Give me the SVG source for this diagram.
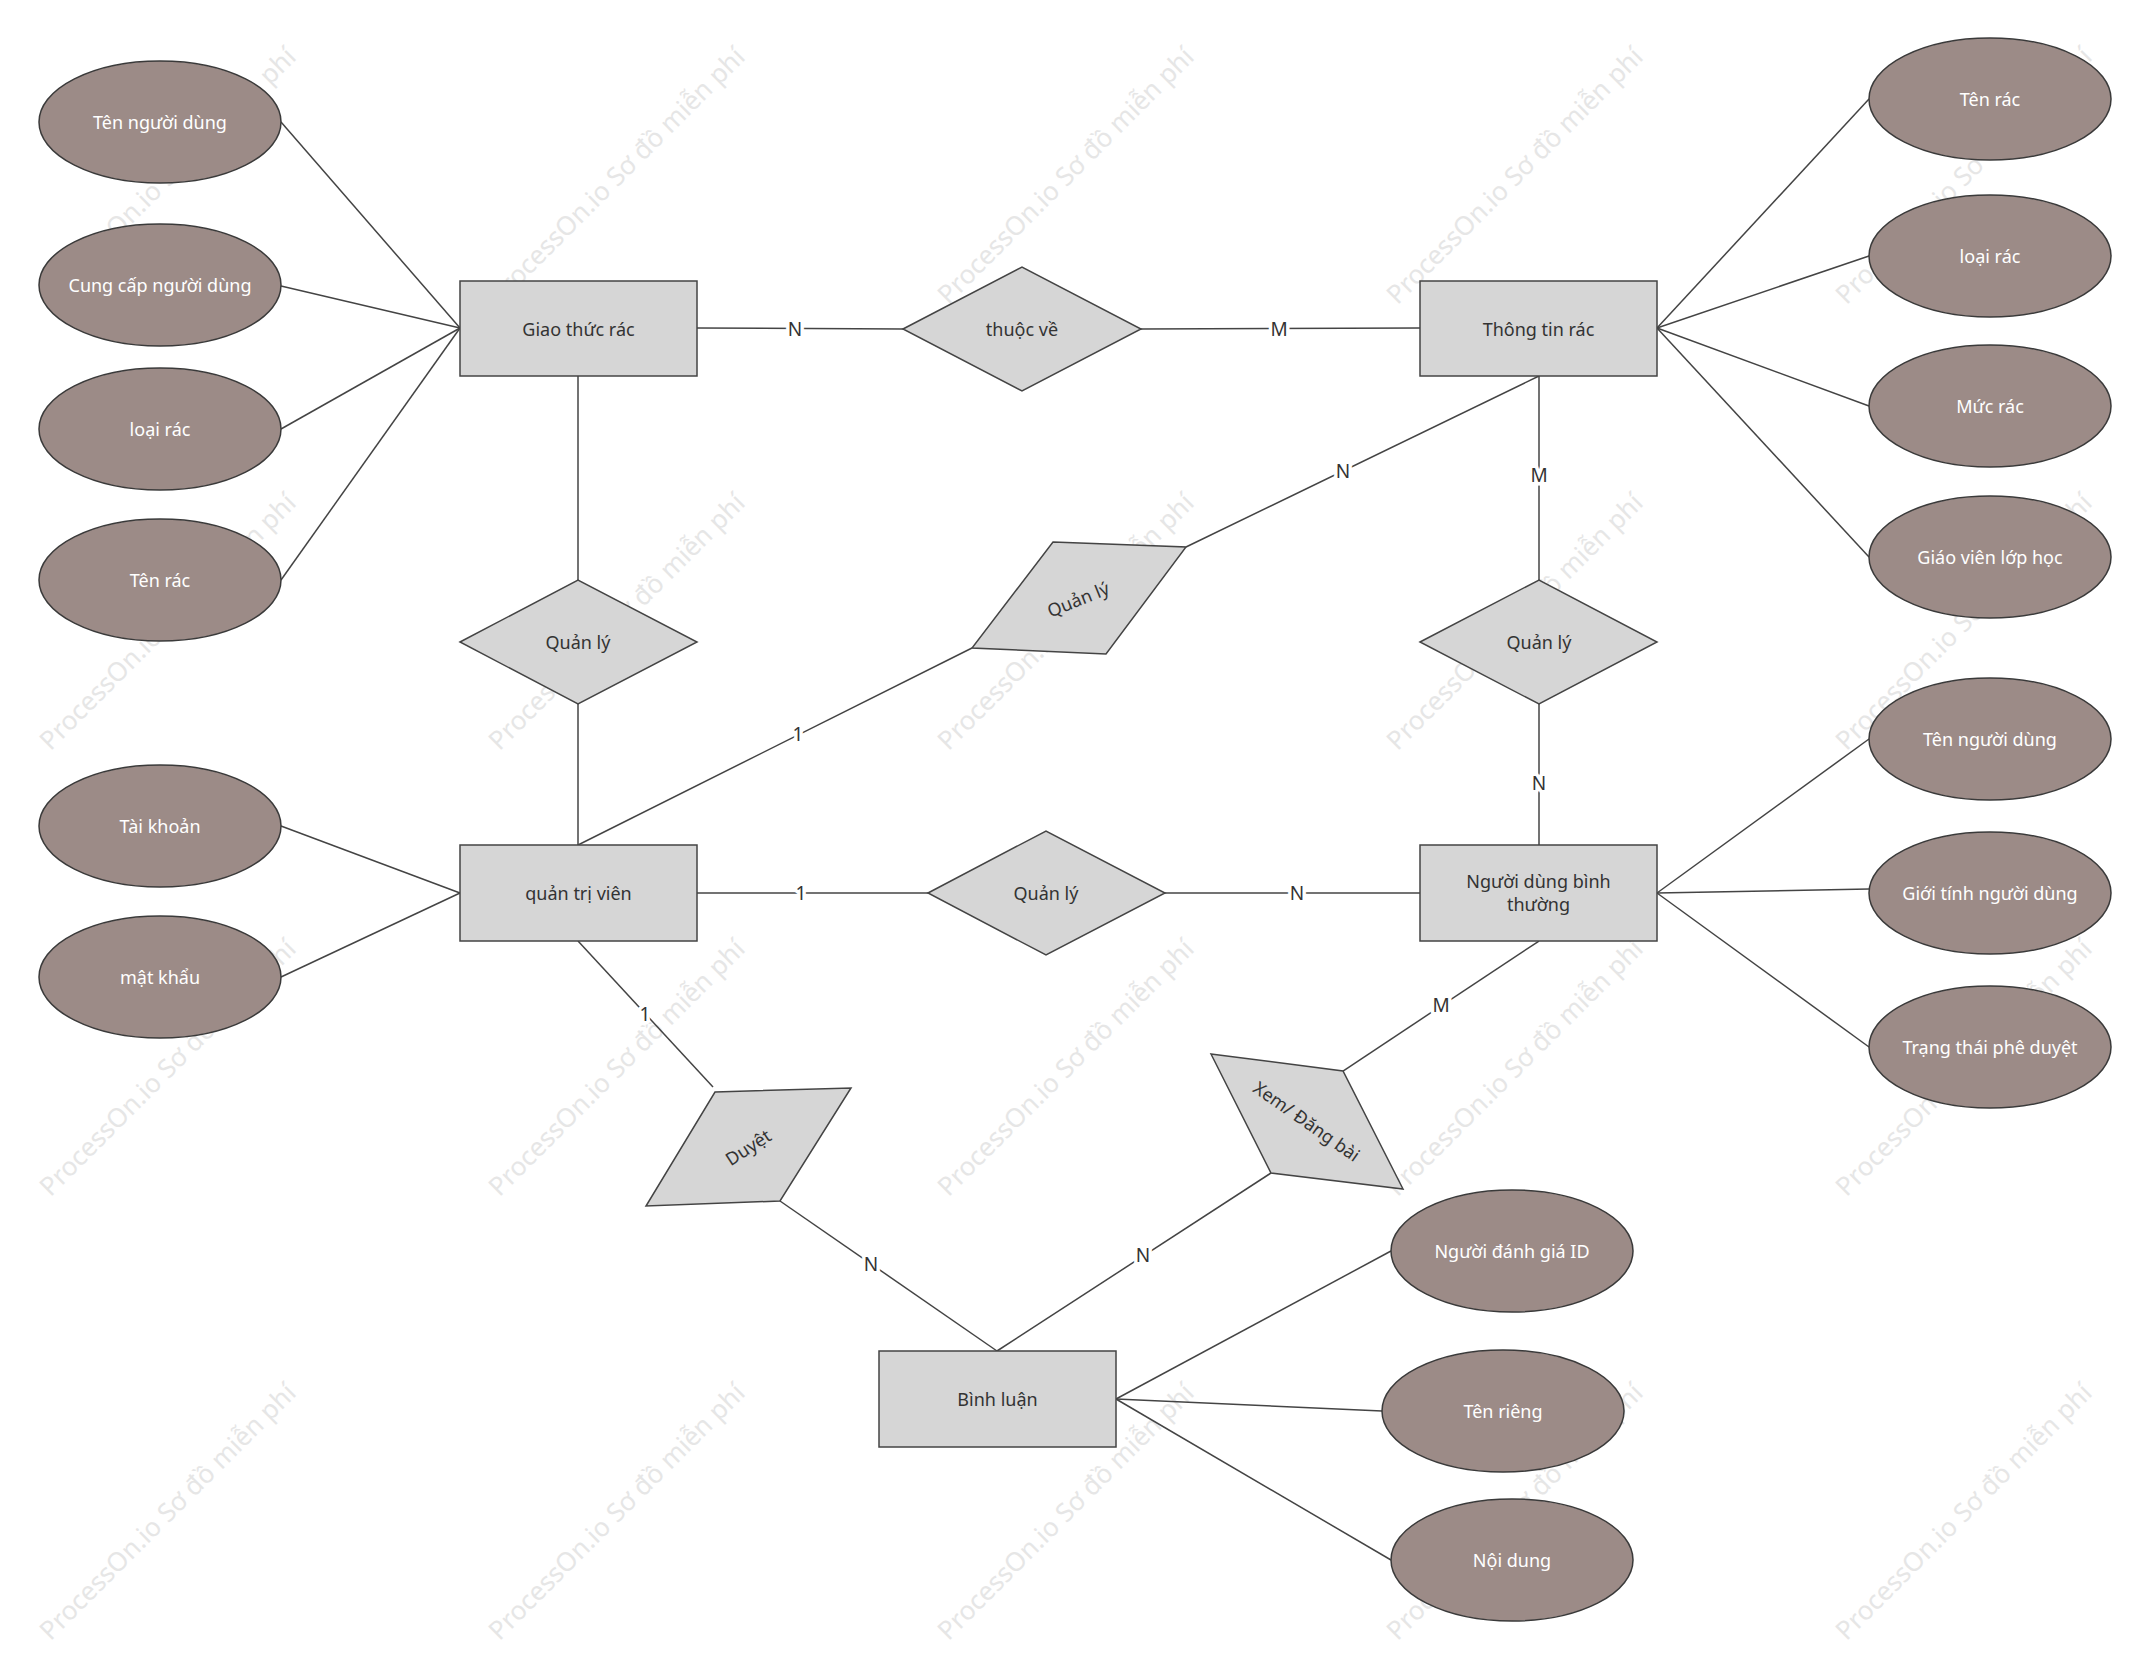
<svg xmlns="http://www.w3.org/2000/svg" width="2146" height="1658" viewBox="0 0 2146 1658">
<style>
.wm{font-family:"Noto Sans","DejaVu Sans",sans-serif;font-size:26px;fill:#e6e6e6;text-anchor:middle}
.ent{fill:#d6d6d6;stroke:#444;stroke-width:1.5}
.rel{fill:#d6d6d6;stroke:#444;stroke-width:1.5}
.att{fill:#9c8b87;stroke:#3a3a3a;stroke-width:1.5}
.t{font-family:"Noto Sans","DejaVu Sans",sans-serif;font-size:18px;fill:#333;text-anchor:middle;dominant-baseline:central}
.ta{font-family:"Noto Sans","DejaVu Sans",sans-serif;font-size:18px;fill:#fff;text-anchor:middle;dominant-baseline:central}
.c line{stroke:#444;stroke-width:1.5}
.lb{font-family:"Noto Sans","DejaVu Sans",sans-serif;font-size:19px;fill:#333;text-anchor:middle;dominant-baseline:central;stroke:#fff;stroke-width:7px;paint-order:stroke;stroke-linejoin:round}
</style>
<rect width="2146" height="1658" fill="#fff"/>
<g id="watermarks">
<text class="wm" x="174" y="182" transform="rotate(-45 174 182)">ProcessOn.io Sơ đồ miễn phí</text>
<text class="wm" x="623" y="182" transform="rotate(-45 623 182)">ProcessOn.io Sơ đồ miễn phí</text>
<text class="wm" x="1072" y="182" transform="rotate(-45 1072 182)">ProcessOn.io Sơ đồ miễn phí</text>
<text class="wm" x="1521" y="182" transform="rotate(-45 1521 182)">ProcessOn.io Sơ đồ miễn phí</text>
<text class="wm" x="1970" y="182" transform="rotate(-45 1970 182)">ProcessOn.io Sơ đồ miễn phí</text>
<text class="wm" x="174" y="628" transform="rotate(-45 174 628)">ProcessOn.io Sơ đồ miễn phí</text>
<text class="wm" x="623" y="628" transform="rotate(-45 623 628)">ProcessOn.io Sơ đồ miễn phí</text>
<text class="wm" x="1072" y="628" transform="rotate(-45 1072 628)">ProcessOn.io Sơ đồ miễn phí</text>
<text class="wm" x="1521" y="628" transform="rotate(-45 1521 628)">ProcessOn.io Sơ đồ miễn phí</text>
<text class="wm" x="1970" y="628" transform="rotate(-45 1970 628)">ProcessOn.io Sơ đồ miễn phí</text>
<text class="wm" x="174" y="1074" transform="rotate(-45 174 1074)">ProcessOn.io Sơ đồ miễn phí</text>
<text class="wm" x="623" y="1074" transform="rotate(-45 623 1074)">ProcessOn.io Sơ đồ miễn phí</text>
<text class="wm" x="1072" y="1074" transform="rotate(-45 1072 1074)">ProcessOn.io Sơ đồ miễn phí</text>
<text class="wm" x="1521" y="1074" transform="rotate(-45 1521 1074)">ProcessOn.io Sơ đồ miễn phí</text>
<text class="wm" x="1970" y="1074" transform="rotate(-45 1970 1074)">ProcessOn.io Sơ đồ miễn phí</text>
<text class="wm" x="174" y="1518" transform="rotate(-45 174 1518)">ProcessOn.io Sơ đồ miễn phí</text>
<text class="wm" x="623" y="1518" transform="rotate(-45 623 1518)">ProcessOn.io Sơ đồ miễn phí</text>
<text class="wm" x="1072" y="1518" transform="rotate(-45 1072 1518)">ProcessOn.io Sơ đồ miễn phí</text>
<text class="wm" x="1521" y="1518" transform="rotate(-45 1521 1518)">ProcessOn.io Sơ đồ miễn phí</text>
<text class="wm" x="1970" y="1518" transform="rotate(-45 1970 1518)">ProcessOn.io Sơ đồ miễn phí</text>
</g>
<g id="connectors" class="c">
<line x1="281" y1="122" x2="460" y2="328"/>
<line x1="281" y1="286" x2="460" y2="328"/>
<line x1="281" y1="429" x2="460" y2="328"/>
<line x1="281" y1="580" x2="460" y2="328"/>
<line x1="697" y1="328" x2="903" y2="329"/>
<line x1="1141" y1="329" x2="1420" y2="328"/>
<line x1="1657" y1="328" x2="1869" y2="99"/>
<line x1="1657" y1="328" x2="1869" y2="256"/>
<line x1="1657" y1="328" x2="1869" y2="406"/>
<line x1="1657" y1="328" x2="1869" y2="557"/>
<line x1="578" y1="376" x2="578" y2="580"/>
<line x1="578" y1="704" x2="578" y2="845"/>
<line x1="1539" y1="376" x2="1539" y2="580"/>
<line x1="1539" y1="704" x2="1539" y2="845"/>
<line x1="1539" y1="376" x2="1186" y2="547"/>
<line x1="972" y1="648" x2="578" y2="845"/>
<line x1="460" y1="893" x2="281" y2="826"/>
<line x1="460" y1="893" x2="281" y2="977"/>
<line x1="697" y1="893" x2="928" y2="893"/>
<line x1="1165" y1="893" x2="1420" y2="893"/>
<line x1="1657" y1="893" x2="1869" y2="739"/>
<line x1="1657" y1="893" x2="1869" y2="889"/>
<line x1="1657" y1="893" x2="1869" y2="1047"/>
<line x1="578" y1="941" x2="713" y2="1087"/>
<line x1="780" y1="1201" x2="997" y2="1351"/>
<line x1="1539" y1="941" x2="1343" y2="1071"/>
<line x1="1271" y1="1173" x2="997" y2="1351"/>
<line x1="1116" y1="1399" x2="1391" y2="1251"/>
<line x1="1116" y1="1399" x2="1382" y2="1411"/>
<line x1="1116" y1="1399" x2="1391" y2="1560"/>
<text class="lb" x="795" y="329">N</text>
<text class="lb" x="1279" y="329">M</text>
<text class="lb" x="1343" y="471">N</text>
<text class="lb" x="1539" y="475">M</text>
<text class="lb" x="1539" y="783">N</text>
<text class="lb" x="798" y="734">1</text>
<text class="lb" x="801" y="893">1</text>
<text class="lb" x="1297" y="893">N</text>
<text class="lb" x="645" y="1014">1</text>
<text class="lb" x="871" y="1264">N</text>
<text class="lb" x="1143" y="1255">N</text>
<text class="lb" x="1441" y="1005">M</text>
</g>
<g id="giao-thuc-rac"><rect class="ent" x="460" y="281" width="237" height="95"/><text class="t" x="578.5" y="328.5">Giao thức rác</text></g>
<g id="thong-tin-rac"><rect class="ent" x="1420" y="281" width="237" height="95"/><text class="t" x="1538.5" y="328.5">Thông tin rác</text></g>
<g id="quan-tri-vien"><rect class="ent" x="460" y="845" width="237" height="96"/><text class="t" x="578.5" y="893">quản trị viên</text></g>
<g id="nguoi-dung"><rect class="ent" x="1420" y="845" width="237" height="96"/><text class="t" x="1538.5" y="881">Người dùng bình</text><text class="t" x="1538.5" y="904">thường</text></g>
<g id="binh-luan"><rect class="ent" x="879" y="1351" width="237" height="96"/><text class="t" x="997.5" y="1399">Bình luận</text></g>
<g id="thuoc-ve"><polygon class="rel" points="903,329 1022,267 1141,329 1022,391"/><text class="t" x="1022" y="329">thuộc về</text></g>
<g id="quan-ly-1"><polygon class="rel" points="460,642 578,580 697,642 578,704"/><text class="t" x="578" y="642">Quản lý</text></g>
<g id="quan-ly-2"><polygon class="rel" points="1420,642 1539,580 1657,642 1539,704"/><text class="t" x="1539" y="642">Quản lý</text></g>
<g id="quan-ly-3"><polygon class="rel" points="928,893 1046,831 1165,893 1046,955"/><text class="t" x="1046" y="893">Quản lý</text></g>
<g id="quan-ly-4"><polygon class="rel" points="1053,542 1186,547 1106,654 972,648"/><text class="t" x="1078" y="599" transform="rotate(-22 1078 599)">Quản lý</text></g>
<g id="duyet"><polygon class="rel" points="715,1092 851,1088 780,1201 646,1206"/><text class="t" x="748" y="1147" transform="rotate(-33 748 1147)">Duyệt</text></g>
<g id="xem-dang-bai"><polygon class="rel" points="1211,1054 1343,1071 1403,1189 1271,1173"/><text class="t" x="1307" y="1121" transform="rotate(35 1307 1121)">Xem/ Đăng bài</text></g>
<g id="a-ten-nguoi-dung-1"><ellipse class="att" cx="160" cy="122" rx="121" ry="61"/><text class="ta" x="160" y="122">Tên người dùng</text></g>
<g id="a-cung-cap"><ellipse class="att" cx="160" cy="285" rx="121" ry="61"/><text class="ta" x="160" y="285">Cung cấp người dùng</text></g>
<g id="a-loai-rac-1"><ellipse class="att" cx="160" cy="429" rx="121" ry="61"/><text class="ta" x="160" y="429">loại rác</text></g>
<g id="a-ten-rac-1"><ellipse class="att" cx="160" cy="580" rx="121" ry="61"/><text class="ta" x="160" y="580">Tên rác</text></g>
<g id="a-tai-khoan"><ellipse class="att" cx="160" cy="826" rx="121" ry="61"/><text class="ta" x="160" y="826">Tài khoản</text></g>
<g id="a-mat-khau"><ellipse class="att" cx="160" cy="977" rx="121" ry="61"/><text class="ta" x="160" y="977">mật khẩu</text></g>
<g id="a-ten-rac-2"><ellipse class="att" cx="1990" cy="99" rx="121" ry="61"/><text class="ta" x="1990" y="99">Tên rác</text></g>
<g id="a-loai-rac-2"><ellipse class="att" cx="1990" cy="256" rx="121" ry="61"/><text class="ta" x="1990" y="256">loại rác</text></g>
<g id="a-muc-rac"><ellipse class="att" cx="1990" cy="406" rx="121" ry="61"/><text class="ta" x="1990" y="406">Mức rác</text></g>
<g id="a-giao-vien"><ellipse class="att" cx="1990" cy="557" rx="121" ry="61"/><text class="ta" x="1990" y="557">Giáo viên lớp học</text></g>
<g id="a-ten-nguoi-dung-2"><ellipse class="att" cx="1990" cy="739" rx="121" ry="61"/><text class="ta" x="1990" y="739">Tên người dùng</text></g>
<g id="a-gioi-tinh"><ellipse class="att" cx="1990" cy="893" rx="121" ry="61"/><text class="ta" x="1990" y="893">Giới tính người dùng</text></g>
<g id="a-trang-thai"><ellipse class="att" cx="1990" cy="1047" rx="121" ry="61"/><text class="ta" x="1990" y="1047">Trạng thái phê duyệt</text></g>
<g id="a-nguoi-danh-gia"><ellipse class="att" cx="1512" cy="1251" rx="121" ry="61"/><text class="ta" x="1512" y="1251">Người đánh giá ID</text></g>
<g id="a-ten-rieng"><ellipse class="att" cx="1503" cy="1411" rx="121" ry="61"/><text class="ta" x="1503" y="1411">Tên riêng</text></g>
<g id="a-noi-dung"><ellipse class="att" cx="1512" cy="1560" rx="121" ry="61"/><text class="ta" x="1512" y="1560">Nội dung</text></g>
</svg>
